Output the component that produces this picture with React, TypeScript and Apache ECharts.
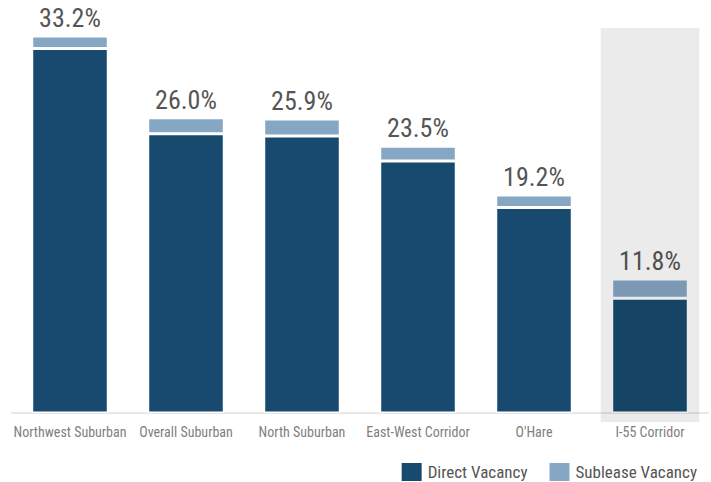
import React, { useEffect, useRef } from "react";
import * as echarts from "echarts";

const categories = [
  "Northwest Suburban",
  "Overall Suburban",
  "North Suburban",
  "East-West Corridor",
  "O'Hare",
  "I-55 Corridor",
];
const directVacancy = [32.1, 24.6, 24.4, 22.2, 18.1, 10.1];
const subleaseVacancy = [1.1, 1.4, 1.5, 1.3, 1.1, 1.7];
const totalLabels = ["33.2%", "26.0%", "25.9%", "23.5%", "19.2%", "11.8%"];
const highlightCategory = "I-55 Corridor";

const FONT = "'Liberation Sans Narrow', 'Roboto Condensed', 'Arial Narrow', sans-serif";

export default function App() {
  const ref = useRef<HTMLDivElement>(null);
  useEffect(() => {
    document.body.style.margin = "0";
    const chart = echarts.init(ref.current!, null, { renderer: "svg" });
    chart.setOption({
      animation: false,
      textStyle: { fontFamily: FONT },
      grid: { left: 12, right: 3, top: 15.6, bottom: 69, containLabel: false },
      legend: {
        right: 14,
        top: 461,
        padding: 0,
        itemWidth: 22,
        itemHeight: 20,
        itemGap: 20,
        icon: "rect",
        textStyle: { fontFamily: FONT, fontSize: 17, color: "#555555", lineHeight: 20 },
        data: ["Direct Vacancy", "Sublease Vacancy"],
      },
      xAxis: {
        type: "category",
        data: categories,
        axisTick: { show: false },
        axisLine: { lineStyle: { color: "#e6e6e6", width: 2 } },
        axisLabel: { color: "#808080", fontSize: 14, margin: 12, fontFamily: FONT, interval: 0 },
      },
      yAxis: {
        type: "value",
        min: 0,
        max: 35,
        show: false,
        splitLine: { show: false },
      },
      series: [
        {
          name: "Direct Vacancy",
          type: "bar",
          stack: "v",
          barWidth: "66%",
          data: directVacancy,
          itemStyle: { color: "#174a6e", borderColor: "#ffffff", borderWidth: 1.5 },
        },
        {
          name: "Sublease Vacancy",
          type: "bar",
          stack: "v",
          barWidth: "66%",
          data: subleaseVacancy,
          itemStyle: { color: "#86a7c4", borderColor: "#ffffff", borderWidth: 1.5 },
          label: {
            show: true,
            position: "top",
            distance: 5,
            fontSize: 26,
            color: "#555555",
            fontFamily: FONT,
            formatter: (p: any) => totalLabels[p.dataIndex],
          },
        },
      ],
    });
    const cx = chart.convertToPixel({ xAxisIndex: 0 }, highlightCategory) as number;
    const band = 696 / categories.length;
    const w = band * 0.85;
    chart.setOption({
      graphic: [
        {
          type: "rect",
          z: 100,
          shape: { x: cx - w / 2, y: 28, width: w, height: 394 },
          style: { fill: "rgba(0,0,0,0.078)" },
          silent: true,
        },
      ],
    });
    return () => chart.dispose();
  }, []);
  return <div ref={ref} style={{ width: 711, height: 482 }} />;
}
